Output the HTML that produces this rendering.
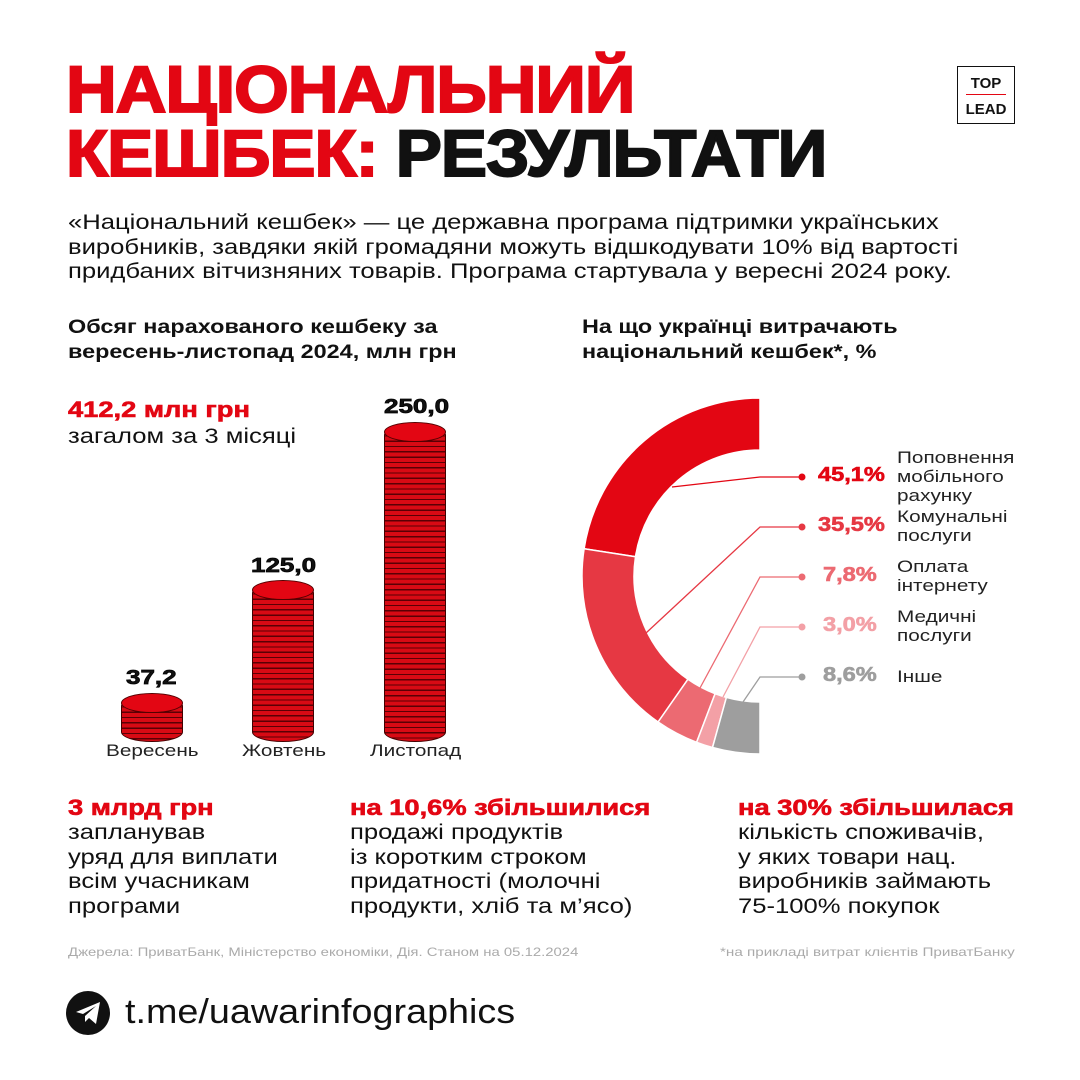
<!DOCTYPE html>
<html><head><meta charset="utf-8"><style>
*{margin:0;padding:0;box-sizing:border-box}
body{width:1080px;height:1080px;background:#fff;position:relative;overflow:hidden;font-family:"Liberation Sans","DejaVu Sans",sans-serif;color:#111}
.a{position:absolute;white-space:nowrap;transform-origin:0 0}
.t{font-weight:900;font-size:66px;line-height:64px;letter-spacing:-1px;-webkit-text-stroke:2px currentColor;transform:scaleX(1.065)}
.r{color:#e30613}
.p{font-size:21px;line-height:24.5px;transform:scaleX(1.22)}
.h{font-weight:bold;font-size:19.5px;line-height:25px;transform:scaleX(1.2)}
.b{font-weight:bold;font-size:22px;-webkit-text-stroke:.6px #e30613;transform:scaleX(1.24)}
.lbl{font-size:17px;line-height:19px;color:#222;transform:scaleX(1.22)}
.pc{font-weight:bold;font-size:20px;-webkit-text-stroke:.6px currentColor;transform:scaleX(1.18)}
.stack{position:absolute;width:62px;background:#d80a14 repeating-linear-gradient(to bottom,#d80a14 0,#d80a14 4px,#5a0005 4px,#5a0005 5.3px);border-radius:31px/10px;border:1px solid #400}
.top{position:absolute;width:62px;height:20px;border-radius:50%;background:#e30613;border:1px solid #500}
.val{font-weight:bold;font-size:20px;-webkit-text-stroke:.7px #000;transform:scaleX(1.3)}
</style></head><body>
<div class="a t r" style="left:66px;top:57px">НАЦІОНАЛЬНИЙ</div>
<div class="a t" style="left:66px;top:121px;transform:scaleX(1.048)"><span class="r">КЕШБЕК:</span> РЕЗУЛЬТАТИ</div>
<div class="a" style="left:957px;top:66px;width:58px;height:58px;border:1.5px solid #111;text-align:center;font-weight:bold;font-size:15px;line-height:17px;padding-top:8px">TOP<div style="height:1px;background:#e30613;margin:2px 8px 6px"></div>LEAD</div>
<div class="a p" style="left:68px;top:211px">«Національний кешбек» — це державна програма підтримки українських<br>виробників, завдяки якій громадяни можуть відшкодувати 10% від вартості<br>придбаних вітчизняних товарів. Програма стартувала у вересні 2024 року.</div>
<div class="a h" style="left:68px;top:315px">Обсяг нарахованого кешбеку за<br>вересень-листопад 2024, млн грн</div>
<div class="a h" style="left:582px;top:315px">На що українці витрачають<br>національний кешбек*, %</div>
<div class="a b r" style="left:68px;top:397px">412,2 млн грн</div>
<div class="a p" style="left:68px;top:425px">загалом за 3 місяці</div>

<div class="stack" style="left:121px;top:696px;height:46px"></div><div class="top" style="left:121px;top:693px"></div>
<div class="stack" style="left:252px;top:583px;height:159px"></div><div class="top" style="left:252px;top:580px"></div>
<div class="stack" style="left:384px;top:425px;height:317px"></div><div class="top" style="left:384px;top:422px"></div>
<div class="a val" style="left:126px;top:667px">37,2</div>
<div class="a val" style="left:251px;top:555px">125,0</div>
<div class="a val" style="left:384px;top:396px">250,0</div>
<div class="a lbl" style="left:106px;top:741px">Вересень</div>
<div class="a lbl" style="left:242px;top:741px">Жовтень</div>
<div class="a lbl" style="left:370px;top:741px">Листопад</div>

<svg class="a" style="left:0;top:0" width="1080" height="1080">
<g stroke="#fff" stroke-width="1.5">
<path d="M760,398 A178,178 0 0 0 584.1,548.7 L635.5,556.7 A126,126 0 0 1 760,450Z" fill="#e30613"/>
<path d="M584.1,548.7 A178,178 0 0 0 658.1,722 L687.9,679.3 A126,126 0 0 1 635.5,556.7Z" fill="#e63843"/>
<path d="M658.1,722 A178,178 0 0 0 696.6,742.3 L715.1,693.7 A126,126 0 0 1 687.9,679.3Z" fill="#ec6a72"/>
<path d="M696.6,742.3 A178,178 0 0 0 712.5,747.5 L726.4,697.4 A126,126 0 0 1 715.1,693.7Z" fill="#f3a0a6"/>
<path d="M712.5,747.5 A178,178 0 0 0 760,754 L760,702 A126,126 0 0 1 726.4,697.4Z" fill="#9e9e9e"/>
</g>
<g fill="none" stroke-width="1.3">
<polyline points="802,477 760,477 672,487" stroke="#e30613"/>
<polyline points="802,527 760,527 646,633" stroke="#e63843"/>
<polyline points="802,577 760,577 700,688" stroke="#ec6a72"/>
<polyline points="802,627 760,627 723,697" stroke="#f3a0a6"/>
<polyline points="802,677 760,677 743,702" stroke="#9e9e9e"/>
</g>
<circle cx="802" cy="477" r="3.5" fill="#e30613"/>
<circle cx="802" cy="527" r="3.5" fill="#e63843"/>
<circle cx="802" cy="577" r="3.5" fill="#ec6a72"/>
<circle cx="802" cy="627" r="3.5" fill="#f3a0a6"/>
<circle cx="802" cy="677" r="3.5" fill="#9e9e9e"/>
<circle cx="88" cy="1013" r="22" fill="#111"/>
<path d="M76,1012 L100,1002 L96,1024 L89,1018 L85,1022 L85,1016 L96,1006 L83,1014Z" fill="#fff"/>
</svg>
<div class="a pc" style="left:818px;top:464px;color:#e30613">45,1%</div>
<div class="a pc" style="left:818px;top:514px;color:#e63843">35,5%</div>
<div class="a pc" style="left:823px;top:564px;color:#ec6a72">7,8%</div>
<div class="a pc" style="left:823px;top:614px;color:#f3a0a6">3,0%</div>
<div class="a pc" style="left:823px;top:664px;color:#9e9e9e">8,6%</div>
<div class="a lbl" style="left:897px;top:448px">Поповнення<br>мобільного<br>рахунку</div>
<div class="a lbl" style="left:897px;top:507px">Комунальні<br>послуги</div>
<div class="a lbl" style="left:897px;top:557px">Оплата<br>інтернету</div>
<div class="a lbl" style="left:897px;top:607px">Медичні<br>послуги</div>
<div class="a lbl" style="left:897px;top:667px">Інше</div>

<div class="a b r" style="left:68px;top:795px">3 млрд грн</div>
<div class="a p" style="left:68px;top:821px">запланував<br>уряд для виплати<br>всім учасникам<br>програми</div>
<div class="a b r" style="left:350px;top:795px">на 10,6% збільшилися</div>
<div class="a p" style="left:350px;top:821px">продажі продуктів<br>із коротким строком<br>придатності (молочні<br>продукти, хліб та м’ясо)</div>
<div class="a b r" style="left:738px;top:795px">на 30% збільшилася</div>
<div class="a p" style="left:738px;top:821px">кількість споживачів,<br>у яких товари нац.<br>виробників займають<br>75-100% покупок</div>

<div class="a" style="left:68px;top:945px;font-size:12px;color:#aaa;transform:scaleX(1.24)">Джерела: ПриватБанк, Міністерство економіки, Дія. Станом на 05.12.2024</div>
<div class="a" style="left:720px;top:945px;font-size:12px;color:#aaa;transform:scaleX(1.27)">*на прикладі витрат клієнтів ПриватБанку</div>
<div class="a" style="left:125px;top:993px;font-size:34px;color:#111;transform:scaleX(1.11)">t.me/uawarinfographics</div>
</body></html>
